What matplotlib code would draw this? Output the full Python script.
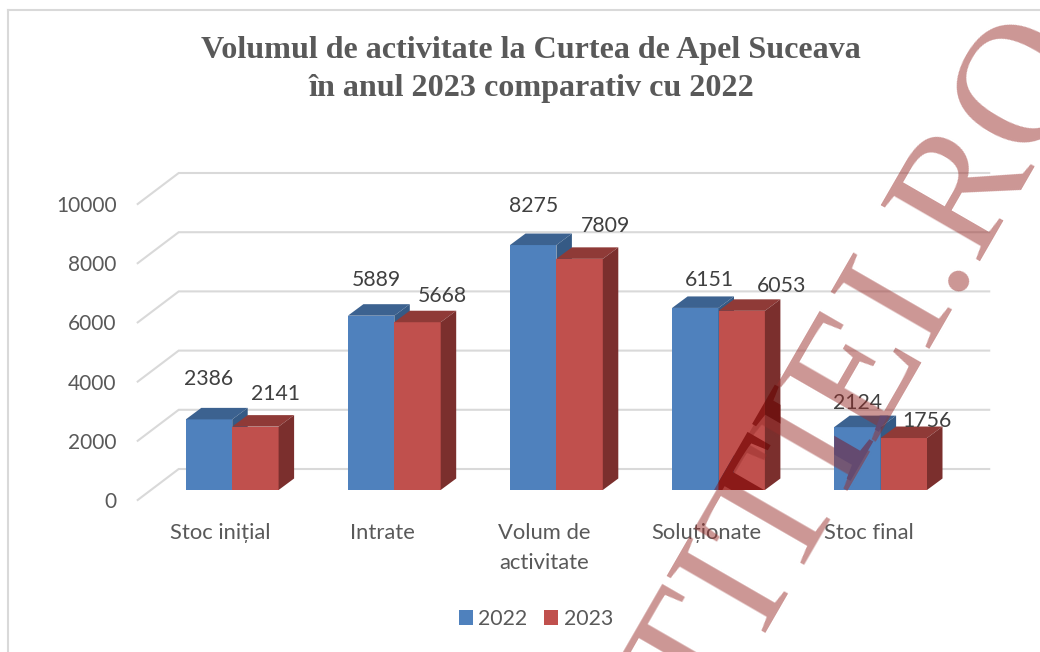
import matplotlib
matplotlib.use("Agg")
import matplotlib.pyplot as plt
from matplotlib.font_manager import FontProperties
from matplotlib.patches import Patch, PathPatch, Polygon
from matplotlib.path import Path
from matplotlib.lines import Line2D
from matplotlib.textpath import TextPath
from matplotlib.transforms import Affine2D

categories = ["Stoc inițial", "Intrate", "Volum de\nactivitate", "Soluționate", "Stoc final"]
years = ["2022", "2023"]
values_2022 = [2386, 5889, 8275, 6151, 2124]
values_2023 = [2141, 5668, 7809, 6053, 1756]
y_ticks = [0, 2000, 4000, 6000, 8000, 10000]

W, H = 1040, 652
fig = plt.figure(figsize=(W / 100, H / 100), dpi=100, facecolor="white")

# axes pixel box and scales
L, R, B, T = 130, 1000, 510, 160
x0_px, x_step = 232.2, 162.1
y0_px, y_step = 490, 0.0296
ax = fig.add_axes([L / W, 1 - B / H, (R - L) / W, (B - T) / H])
ax.set_xlim((L - x0_px) / x_step, (R - x0_px) / x_step)
ax.set_ylim((y0_px - B) / y_step, (y0_px - T) / y_step)
for s in ax.spines.values():
    s.set_visible(False)
ax.patch.set_alpha(0)

def dx(px):
    return px / x_step
def dy(px):
    return px / y_step

sans = "Lato"
tick_col = "#595959"
grid_col = "#d9d9d9"

# axis ticks live on the front plane of the 3D box
ax.set_yticks([v - dy(10) for v in y_ticks], [str(v) for v in y_ticks],
              fontfamily=sans, fontsize=15, color=tick_col)
ax.set_xticks([i - dx(12) for i in range(len(categories))], categories,
              fontfamily=sans, fontsize=15.8, color=tick_col, linespacing=1.62)
ax.tick_params(axis="both", length=0)
ax.tick_params(axis="y", pad=9.7)
ax.tick_params(axis="x", pad=9.5)

# walls
xl_front = -0.583
xl_back = -0.33
xr_back = 4.67
for v in y_ticks:
    ax.plot([xl_front, xl_back, xr_back],
            [v - dy(10), v + dy(21), v + dy(21)],
            color=grid_col, lw=1.5, zorder=1, solid_joinstyle="miter")

# 3D bars
width = 46.4 / x_step
ddx, ddy = dx(15.5), dy(11.5)
styles = [("#4f81bd", "#3c6290", "#355a85"), ("#c0504d", "#8f3a37", "#7b2f2d")]
offsets = [
    [(0, 40), (5, 36), (0, 39), (14, 28), (0, 24)],
    [(20, 33), (25, 26), (26, 33), (40, 25), (23, 17)],
]
clip_front = [[], []]
clip_side = [[], []]
for s, vals in enumerate([values_2022, values_2023]):
    front, top, side = styles[s]
    for i, v in enumerate(vals):
        x = i - width + s * width
        z = 3 + i * 3 + s * 0.5
        ax.bar(x, v, width=width, align="edge", color=front, zorder=z, linewidth=0)
        top_pts = [(x, v), (x + width, v), (x + width + ddx, v + ddy), (x + ddx, v + ddy)]
        side_pts = [(x + width, 0), (x + width + ddx, ddy), (x + width + ddx, v + ddy), (x + width, v)]
        ax.add_patch(Polygon(top_pts, closed=True, fc=top, ec="none", zorder=z))
        ax.add_patch(Polygon(side_pts, closed=True, fc=side, ec="none", zorder=z))
        ox, oy = offsets[s][i]
        ax.annotate(str(v), xy=(x + width / 2, v), xytext=(ox * 0.72, oy * 0.72),
                    textcoords="offset points", ha="center", va="center",
                    fontfamily=sans, fontsize=15.3, color="#404040", zorder=30)
        clip_front[s].append(Path([(x, 0), (x + width, 0), (x + width, v), (x, v), (x, 0)], closed=True))
        clip_front[s].append(Path(top_pts + top_pts[:1], closed=True))
        clip_side[s].append(Path(side_pts + side_pts[:1], closed=True))

# chart frame
for xs, ys in [((8, 8), (10, H)), ((8, W), (10, 10))]:
    fig.add_artist(Line2D([a / W for a in xs], [1 - b / H for b in ys], color="#d9d9d9", lw=1.5))

# title
fig.text(531 / W, 1 - 50.5 / H, "Volumul de activitate la Curtea de Apel Suceava",
         ha="center", va="center", fontfamily="Liberation Serif", fontweight="bold",
         fontsize=23.1, color="#595959")
fig.text(531 / W, 1 - 88.5 / H, "în anul 2023 comparativ cu 2022",
         ha="center", va="center", fontfamily="Liberation Serif", fontweight="bold",
         fontsize=23.1, color="#595959")

# legend
handles = [Patch(fc=styles[0][0], ec="none"), Patch(fc=styles[1][0], ec="none")]
fig.legend(handles, years, loc="center", bbox_to_anchor=(536 / W, 1 - 619 / H), ncol=2,
           frameon=False, prop={"family": sans, "size": 15.3}, labelcolor=tick_col,
           handlelength=0.66, handleheight=0.66, handletextpad=0.26, columnspacing=0.8)

# watermark
mark = "JUSTITIEI.RO"
mark_end = (1097, 54)
mark_rot = 60
mark_pt = 125
fig.text(mark_end[0] / W, 1 - mark_end[1] / H, mark, rotation=mark_rot, rotation_mode="anchor",
         ha="right", va="baseline", fontfamily="Liberation Serif", fontsize=mark_pt,
         color=(0.60, 0.18, 0.17), alpha=0.5, zorder=50)

# darker tint where the watermark crosses the bars; nearer faces are painted last
fp = FontProperties(family="Liberation Serif")
tp = TextPath((0, 0), mark, size=mark_pt * 100 / 72, prop=fp)
tp_right = tp.get_extents().x1
tr = (Affine2D().translate(-tp_right, 0).rotate_deg(mark_rot)
      .translate(mark_end[0], H - mark_end[1]))
for order, (paths, col) in enumerate([(clip_side[0], "#4a3a5c"), (clip_front[0], "#644a70"),
                                      (clip_side[1], "#6f1412"), (clip_front[1], "#8b1a18")]):
    overlay = PathPatch(tp, fc=col, ec="none", transform=tr, zorder=51 + order)
    fig.add_artist(overlay)
    overlay.set_transform(tr)
    overlay.set_clip_path(Path.make_compound_path(*paths), ax.transData)

fig.savefig("out.png", dpi=100)
